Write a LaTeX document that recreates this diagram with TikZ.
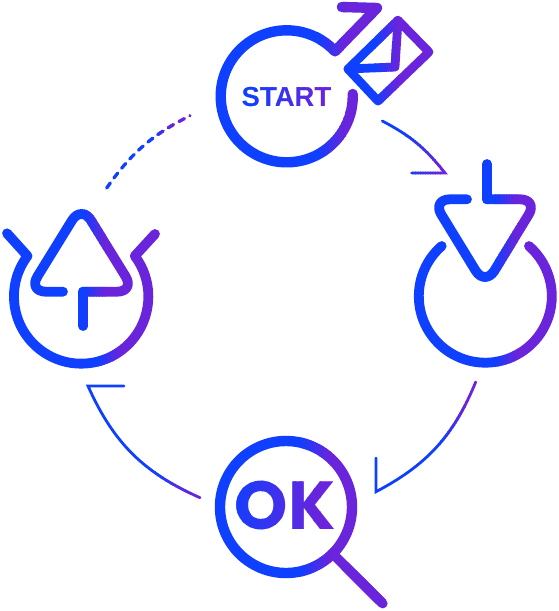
\documentclass[tikz,border=0pt]{standalone}
\usepackage{fontspec}
\setmainfont{Liberation Sans}
\newfontfamily\okfont{Poppins}[BoldFont=* Bold]
\definecolor{gblue}{HTML}{0F3FFF}
\definecolor{gpurple}{HTML}{6A24DC}
% gradient along x: #1 from x, #2 to x, #3 drawing
\newcommand{\gradpaint}[3]{%
  \begin{scope}
    \clip (-20,-20) rectangle (#1+0.8,640);
    #3
  \end{scope}
  \pgfmathsetmacro{\gstep}{(#2-#1)/14}%
  \foreach \gi in {0,...,13}{%
    \pgfmathsetmacro{\gl}{#1+\gi*\gstep}%
    \pgfmathsetmacro{\gr}{#1+(\gi+1)*\gstep+0.8}%
    \pgfmathtruncatemacro{\gp}{round((\gi+0.5)/14*100)}%
    \colorlet{gcur}{gpurple!\gp!gblue}%
    \begin{scope}
      \clip (\gl,-20) rectangle (\gr,640);
      \tikzset{icon/.append style={draw=gcur},textc/.append style={text=gcur}}%
      #3
    \end{scope}
  }%
  \begin{scope}
    \clip (#2,-20) rectangle (600,640);
    \tikzset{icon/.append style={draw=gpurple},textc/.append style={text=gpurple}}%
    #3
  \end{scope}
}
\tikzset{
  icon/.style={draw=gblue,line width=9.8pt,line cap=round,line join=round},
  ringline/.style={line width=10.4pt},
  envline/.style={line width=8.8pt},
  textc/.style={text=gblue,inner sep=0pt},
  thinline/.style={line width=2.8pt,line join=miter,miter limit=20},
  dashline/.style={line width=3.3pt,dash pattern=on 6.2pt off 6.2pt},
  softcorner/.style={rounded corners=18pt},
}
\begin{document}
\begin{tikzpicture}[x=1pt,y=-1pt]
\useasboundingbox (0,0) rectangle (559,611);
% connector end points
\coordinate (c1a) at (382.3,121);
\coordinate (c1b) at (445,173);
\coordinate (c1c) at (411.7,173);
\coordinate (c2a) at (475.7,382);
\coordinate (c2b) at (376,491.7);
\coordinate (c2c) at (376,458);
\coordinate (c3a) at (200,497.7);
\coordinate (c3b) at (88,386);
\coordinate (c3c) at (124,386);
\coordinate (c4a) at (106.7,188);
\coordinate (c4b) at (190,115.7);
% start icon
\gradpaint{318}{345}{
  \draw[icon,ringline] (352.7,94) arc[start angle=-2,end angle=317,radius=66] -- (377,8) -- (342,7);
}
\gradpaint{250}{325}{
  \node[textc,font=\bfseries\fontsize{27.5}{27.5}\selectfont] (start) at (286.5,97) {START};
}
\gradpaint{375}{398}{
  \draw[icon,envline] (348,69) -- (398,20.3) -- (429,52) -- (378,101) -- cycle;
  \draw[icon,envline] (348,69) -- (395,67) -- (398,20.3);
}
% download icon
\gradpaint{495}{517}{
  \draw[icon] (441.7,246) arc[start angle=229,end angle=-49,radius=66.5];
  \draw[icon,softcorner] (467,199.3) -- (432,199.3) -- (485,286) -- (538,199.3) -- (487,199.3);
  \draw[icon] (487,199.3) -- (487,164);
}
% upload icon
\gradpaint{98}{120}{
  \draw[icon] (7,233.3) -- (27.5,256) arc[start angle=217,end angle=-37,radius=67.2] -- (155,234);
}
\gradpaint{84}{105}{
  \draw[icon,softcorner] (63,291.7) -- (28,291.7) -- (81.5,205) -- (135,291.7) -- (83,291.7);
  \draw[icon] (83,291.7) -- (83,326);
}
% ok icon
\gradpaint{300}{330}{
  \draw[icon,ringline] (286,507) circle[radius=66];
  \draw[icon,line cap=butt] (335,556) -- (382.7,603.5);
  \draw[icon] (345,566) -- (382.7,603.5);
}
\gradpaint{230}{320}{
  \node[textc,font=\okfont\bfseries\fontsize{68}{68}\selectfont] (ok) at (285,506) {OK};
}
% connectors
\gradpaint{405}{440}{
  \draw[icon,thinline] (c1a) to[bend left=12] (c1b) -- (c1c);
}
\gradpaint{440}{465}{
  \draw[icon,thinline] (c2a) to[bend left=20] (c2b) -- (c2c);
}
\gradpaint{155}{190}{
  \draw[icon,thinline] (c3a) to[bend left=21] (c3b) -- (c3c);
}
\gradpaint{150}{172}{
  \draw[icon,dashline] (c4a) to[bend left=14] (c4b);
}
\end{tikzpicture}
\end{document}
